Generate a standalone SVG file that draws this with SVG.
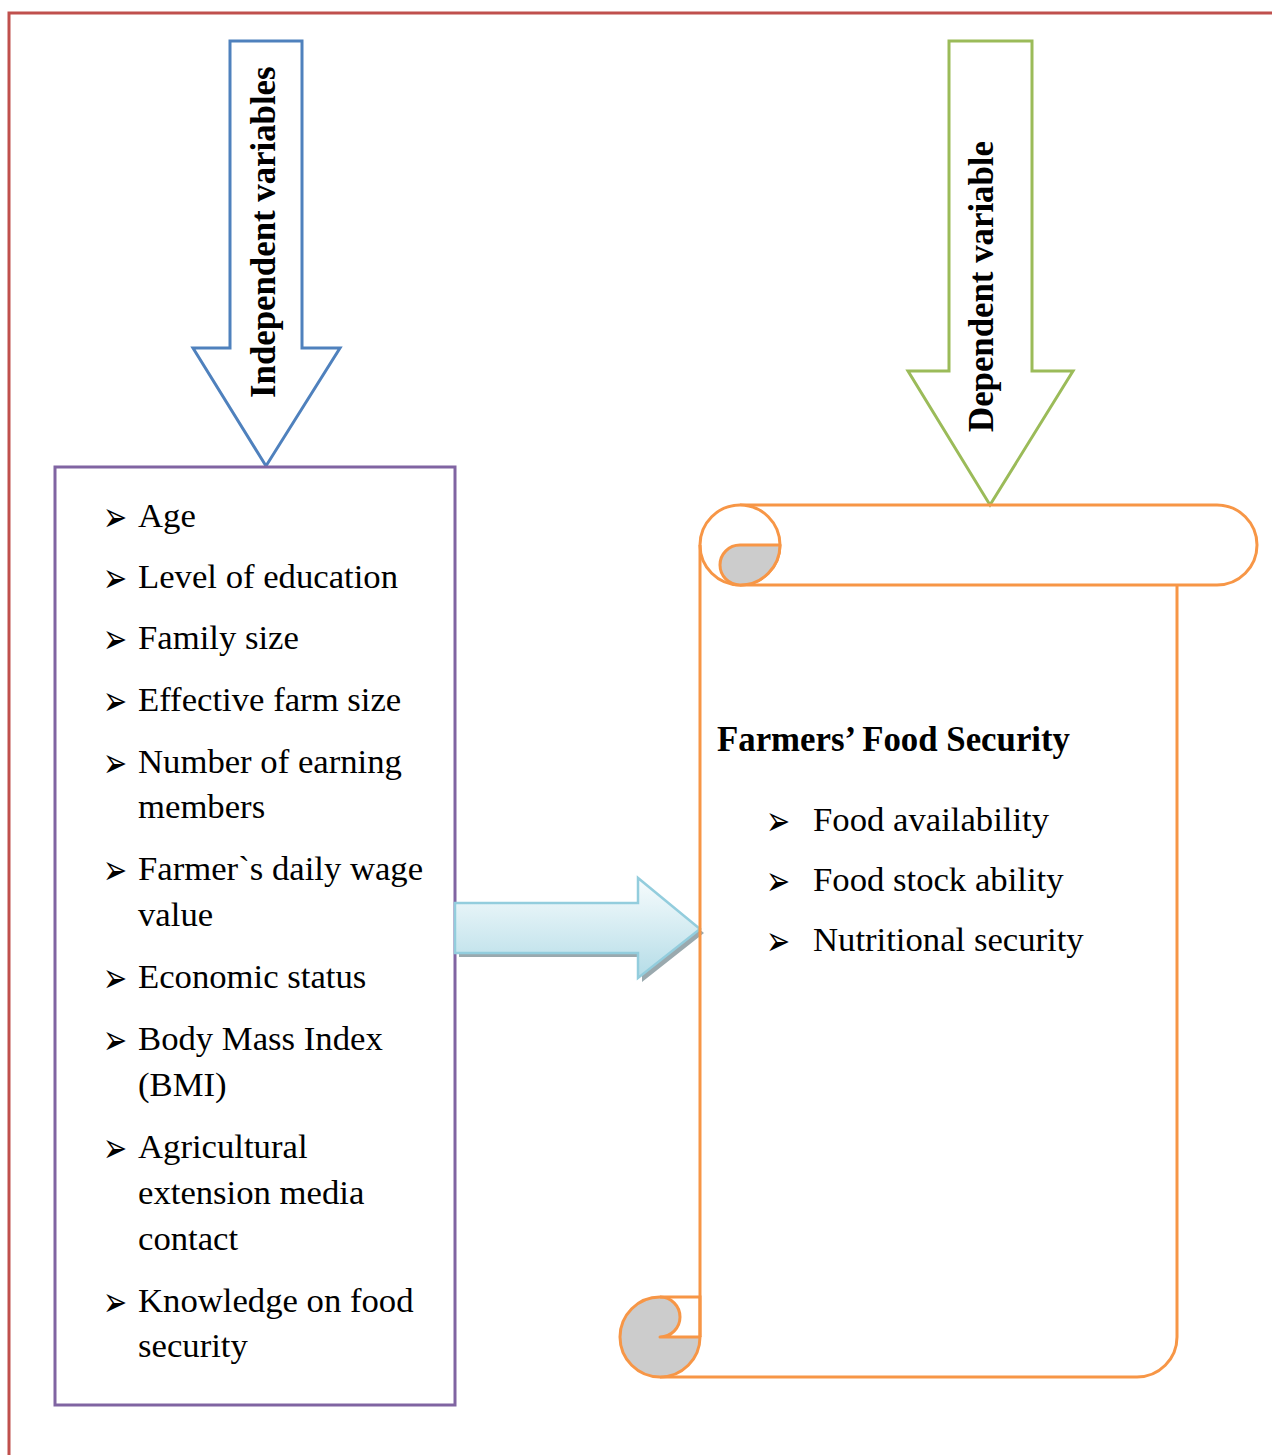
<svg xmlns="http://www.w3.org/2000/svg" width="1272" height="1455" viewBox="0 0 1272 1455">
<defs>
<linearGradient id="ag" x1="0" y1="0" x2="0" y2="1">
<stop offset="0" stop-color="#F7FCFD"/>
<stop offset="1" stop-color="#B4DCE7"/>
</linearGradient>
<style>
.t{font-family:"Liberation Serif","Times New Roman",serif;font-size:34.7px;fill:#000}
.b{font-family:"Liberation Serif","Times New Roman",serif;font-size:34.8px;font-weight:bold;fill:#000}
.bul{font-family:"DejaVu Sans",sans-serif;font-size:36px;fill:#000}
.sc{fill:none;stroke:#F79646;stroke-width:3}
.gr{fill:#CCCCCC;stroke:#F79646;stroke-width:3;stroke-linejoin:round}
</style>
</defs>
<rect width="1272" height="1455" fill="#FFFFFF"/>
<path d="M9 1455 V13 H1272" fill="none" stroke="#C0504D" stroke-width="3"/>

<g id="independent-arrow">
<polygon points="230,41 302,41 302,348 340,348 266,466 193,348 230,348" fill="#FFFFFF" stroke="#4F81BD" stroke-width="3"/>
<text class="b" transform="translate(275,398) rotate(-90)">Independent variables</text>
</g>

<g id="dependent-arrow">
<polygon points="949,41 1032,41 1032,371 1073,371 990,505 908,371 949,371" fill="#FFFFFF" stroke="#9BBB59" stroke-width="3"/>
<text class="b" transform="translate(993,432) rotate(-90)">Dependent variable</text>
</g>

<g id="independent-box">
<rect x="55" y="467" width="400" height="938" fill="#FFFFFF" stroke="#8064A2" stroke-width="3"/>
<g class="bul">
<text transform="translate(103,531) scale(0.8,1.15)">➢</text>
<text transform="translate(103,592) scale(0.8,1.15)">➢</text>
<text transform="translate(103,653) scale(0.8,1.15)">➢</text>
<text transform="translate(103,715) scale(0.8,1.15)">➢</text>
<text transform="translate(103,777) scale(0.8,1.15)">➢</text>
<text transform="translate(103,884) scale(0.8,1.15)">➢</text>
<text transform="translate(103,992) scale(0.8,1.15)">➢</text>
<text transform="translate(103,1054) scale(0.8,1.15)">➢</text>
<text transform="translate(103,1162) scale(0.8,1.15)">➢</text>
<text transform="translate(103,1316) scale(0.8,1.15)">➢</text>
</g>
<g class="t">
<text x="138" y="527">Age</text>
<text x="138" y="588">Level of education</text>
<text x="138" y="649">Family size</text>
<text x="138" y="711">Effective farm size</text>
<text x="138" y="773">Number of earning</text>
<text x="138" y="818">members</text>
<text x="138" y="880">Farmer`s daily wage</text>
<text x="138" y="926">value</text>
<text x="138" y="988">Economic status</text>
<text x="138" y="1050">Body Mass Index</text>
<text x="138" y="1096">(BMI)</text>
<text x="138" y="1158">Agricultural</text>
<text x="138" y="1204">extension media</text>
<text x="138" y="1250">contact</text>
<text x="138" y="1312">Knowledge on food</text>
<text x="138" y="1357">security</text>
</g>
</g>

<g id="connectors">
<polygon points="459,907 642,907 642,882 704,933 642,982 642,957 459,957" fill="#9AA9AE"/>
<polygon points="455,903 638,903 638,878 700,929 638,978 638,953 455,953" fill="url(#ag)" stroke="#93CDDD" stroke-width="2.5" stroke-linejoin="miter"/>
</g>

<g id="food-security-scroll">
<path class="sc" d="M740 505 H1217 A40 40 0 0 1 1217 585 H740"/>
<circle cx="740" cy="545" r="40" fill="#FFFFFF" stroke="#F79646" stroke-width="3"/>
<path class="gr" d="M740 545 H780 A40 40 0 0 1 740 585 A20 20 0 0 1 740 545 Z"/>
<path class="sc" d="M700 545 V1337"/>
<path class="sc" d="M1177 585 V1337 A40 40 0 0 1 1137 1377 H660"/>
<path class="gr" d="M660 1337 H700 A40 40 0 1 1 660 1297 A20 20 0 0 1 660 1337 Z"/>
<path class="sc" d="M660 1297 H700 V1337"/>
<text class="b" x="717" y="751">Farmers’ Food Security</text>
<g class="bul">
<text transform="translate(766,835) scale(0.8,1.15)">➢</text>
<text transform="translate(766,895) scale(0.8,1.15)">➢</text>
<text transform="translate(766,955) scale(0.8,1.15)">➢</text>
</g>
<g class="t">
<text x="813" y="831">Food availability</text>
<text x="813" y="891">Food stock ability</text>
<text x="813" y="951">Nutritional security</text>
</g>
</g>
</svg>
